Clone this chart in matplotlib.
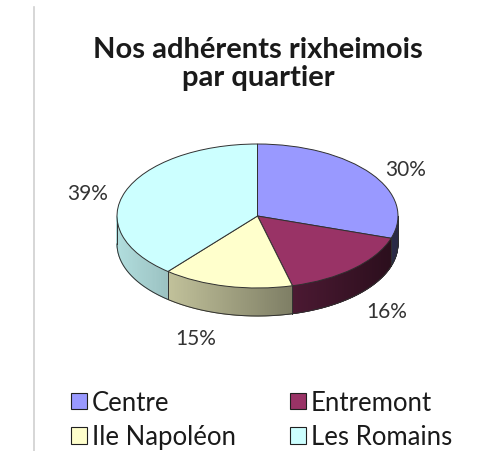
import numpy as np
import matplotlib.pyplot as plt
from matplotlib.patches import Wedge, Patch
from matplotlib.collections import PolyCollection
from matplotlib.transforms import Affine2D

# Data
quartiers = ["Centre", "Entremont", "Ile Napoléon", "Les Romains"]
parts = [30, 16, 15, 39]
colors = ["#9999FF", "#993366", "#FFFFCC", "#CCFFFF"]
title = "Nos adhérents rixheimois\npar quartier"

plt.rcParams['font.family'] = ['Lato', 'DejaVu Sans']

W, H = 480, 452
fig = plt.figure(figsize=(W / 100, H / 100), dpi=100)
ax = fig.add_axes([0, 0, 1, 1])
ax.set_xlim(0, W)
ax.set_ylim(0, H)
ax.axis("off")

# pie geometry (pixels, y up)
cx, cy = 257.5, H - 217
rx, ry = 140.5, 72
depth = 28

vals = np.array(parts, dtype=float)
frac = vals / vals.sum()
cum = np.concatenate([[0], np.cumsum(frac)])
# clockwise from 12 o'clock
a_start = 90 - cum[:-1] * 360
a_end = 90 - cum[1:] * 360

def rgb(c):
    c = c.lstrip("#")
    return np.array([int(c[i:i + 2], 16) for i in (0, 2, 4)]) / 255.0

# side walls (front half only), darker towards the right
quads, qcols = [], []
for i in range(len(parts)):
    th = np.linspace(a_end[i], a_start[i], 200)
    th_r = np.radians(th)
    base = rgb(colors[i])
    for k in range(len(th) - 1):
        t0, t1 = th_r[k], th_r[k + 1]
        tm = 0.5 * (t0 + t1)
        if np.sin(tm) > 0:
            continue
        x0, y0 = cx + rx * np.cos(t0), cy + ry * np.sin(t0)
        x1, y1 = cx + rx * np.cos(t1), cy + ry * np.sin(t1)
        quads.append([(x0, y0), (x1, y1), (x1, y1 - depth), (x0, y0 - depth)])
        f = 0.57 - 0.3 * np.cos(tm)
        qcols.append(np.clip(base * f, 0, 1))
pc = PolyCollection(quads, facecolors=qcols, edgecolors=qcols, linewidths=0.6, zorder=1)
ax.add_collection(pc)

# outline of the side
tt = np.radians(np.linspace(180, 360, 300))
ax.plot(cx + rx * np.cos(tt), cy + ry * np.sin(tt) - depth, color="#303030", lw=0.7, zorder=2)
for a in [180, 360] + list(a_start):
    ar = np.radians(a)
    if np.sin(ar) <= 1e-9:
        x = cx + rx * np.cos(ar)
        y = cy + ry * np.sin(ar)
        ax.plot([x, x], [y, y - depth], color="#303030", lw=0.7, zorder=2)

# top faces
tr = Affine2D().scale(1, ry / rx).translate(cx, cy) + ax.transData
for i in range(len(parts)):
    w = Wedge((0, 0), rx, a_end[i], a_start[i], facecolor=colors[i],
              edgecolor="#303030", linewidth=0.7, transform=tr, zorder=3)
    ax.add_patch(w)

# percentage labels
nudge = [(0, -4), (4, -4), (-22, -10), (2, -6)]
for i in range(len(parts)):
    am = np.radians(0.5 * (a_start[i] + a_end[i]))
    lx = cx + 1.3 * rx * np.cos(am) + nudge[i][0]
    ly = cy + 1.2 * ry * np.sin(am) + nudge[i][1]
    if np.sin(am) < 0:
        ly -= depth
    ax.text(lx, ly, f"{round(frac[i] * 100):.0f}%", ha="center", va="center",
            fontsize=15, color="#333333", zorder=4)

# title
ax.text(258, H - 64, title, ha="center", va="center", fontsize=21,
        fontweight="bold", color="#1a1a1a", linespacing=1.1)

# left border line
ax.plot([34, 34], [H - 8, 0], color="#d0d0d0", lw=1.2)

# legend, row-wise order
order = [0, 2, 1, 3]
handles = [Patch(facecolor=colors[i], edgecolor="#202020", linewidth=0.8) for i in order]
labels = [quartiers[i] for i in order]
leg = ax.legend(handles, labels, ncol=2, loc="upper left",
                bbox_to_anchor=(71 / W, 1 - 391 / H), frameon=False,
                fontsize=18.5, handlelength=0.62, handleheight=0.62,
                handletextpad=0.2, columnspacing=2.1, labelspacing=0.36,
                borderpad=0, borderaxespad=0)
for t in leg.get_texts():
    t.set_color("#1a1a1a")

fig.savefig("out.png", dpi=100)
